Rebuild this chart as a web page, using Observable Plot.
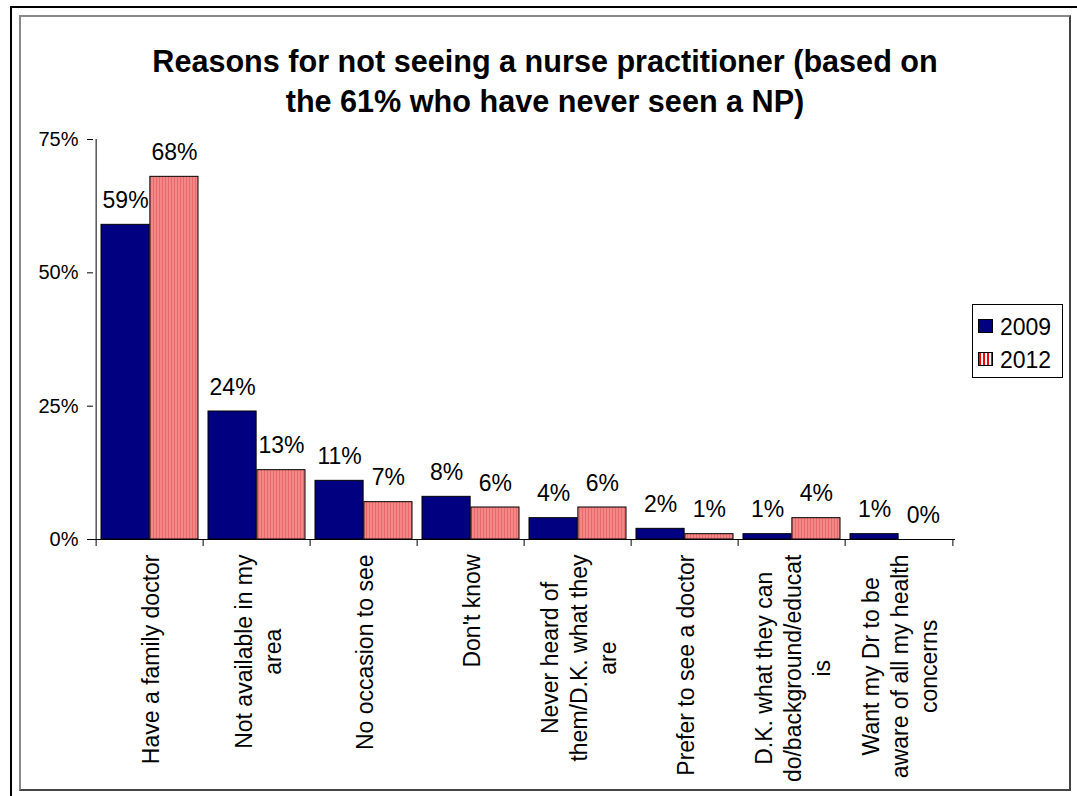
<!DOCTYPE html>
<html><head><meta charset="utf-8">
<script src="https://cdn.jsdelivr.net/npm/d3@7"></script>
<script src="https://cdn.jsdelivr.net/npm/@observablehq/plot@0.6"></script>
<style>
body{margin:0;background:#fff;font-family:"Liberation Sans",Arial,sans-serif;}
#wrap{position:relative;width:1077px;height:796px;overflow:hidden;background:#fff;}
#outer{position:absolute;left:10px;top:6px;width:1100px;height:830px;border-left:2px solid #000;border-top:2px solid #000;}
#inner{position:absolute;box-sizing:border-box;left:19px;top:15px;width:1052px;height:776px;border:2px solid #444;border-left-color:#888;border-top-color:#888;}
#chart{position:absolute;left:0;top:0;}
#title{position:absolute;left:0;width:1090px;top:41px;text-align:center;font-weight:bold;font-size:30.6px;line-height:40px;color:#000;}
#legend{position:absolute;box-sizing:border-box;left:972px;top:304px;width:91px;height:74px;border:1px solid #000;background:#fff;}
.sw{position:absolute;left:5px;width:15px;height:14px;box-sizing:border-box;border:1px solid #000;}
.lt{position:absolute;left:27px;font-size:23px;line-height:23px;color:#000;}
</style></head>
<body>
<div id="wrap">
  <div id="outer"></div>
  <div id="inner"></div>
  <div id="chart"></div>
  <div id="title">Reasons for not seeing a nurse practitioner (based on<br>the 61% who have never seen a NP)</div>
  <div id="legend">
    <div class="sw" style="top:14px;background:#000080"></div><div class="lt" style="top:11px">2009</div>
    <div class="sw" style="top:47px;background:repeating-linear-gradient(90deg,#ff0000 0 2px,#ffffff 2px 4px)"></div><div class="lt" style="top:44px">2012</div>
  </div>
</div>
<script>
const categories = ["Have a family doctor","Not available in my area","No occasion to see","Don't know","Never heard of them/D.K. what they are","Prefer to see a doctor","D.K. what they can do/background/educat is","Want my Dr to be aware of all my health concerns"];
const categoryLabels = ["Have a family doctor","Not available in my\narea","No occasion to see","Don't know","Never heard of\nthem/D.K. what they\nare","Prefer to see a doctor","D.K. what they can\ndo/background/educat\nis","Want my Dr to be\naware of all my health\nconcerns"];
const years = ["2009","2012"];
const values2009 = [59,24,11,8,4,2,1,1];
const values2012 = [68,13,7,6,6,1,4,0];
const yTicks = [0,25,50,75];

const rows2009 = categories.map((c,i)=>({category:c, year:years[0], value:values2009[i]}));
const rows2012 = categories.map((c,i)=>({category:c, year:years[1], value:values2012[i]}));

const W = 1077, H = 796, mL = 93, mR = 122, mT = 139, mB = 257;
const bw = (W - mL - mR) / categories.length;
const pad = 5;
const half = (bw - 2 * pad) / 2;
const labelFont = 23, labelLH = 1.25;

const ctx = document.createElement("canvas").getContext("2d");
ctx.font = labelFont + "px 'Liberation Sans'";
const labelWidth = (s) => Math.max(...s.split("\n").map(l => ctx.measureText(l).width));

const labelMarks = categories.map((c, i) => Plot.text([c], {
  x: d => d,
  frameAnchor: "bottom",
  text: () => categoryLabels[i],
  rotate: -90,
  textAnchor: "middle",
  lineAnchor: "middle",
  lineHeight: labelLH,
  fontSize: labelFont,
  dy: 15 + labelWidth(categoryLabels[i]) / 2
}));

const chart = Plot.plot({
  width: W, height: H,
  marginLeft: mL, marginRight: mR, marginTop: mT, marginBottom: mB,
  style: {fontFamily: "'Liberation Sans', Arial, sans-serif", fontSize: "20px", color: "#000", background: "transparent", overflow: "visible"},
  x: {domain: categories, padding: 0, axis: null},
  y: {domain: [0, 75], axis: null},
  marks: [
    Plot.barY(rows2009, {x: "category", y: "value", fill: "#000080", stroke: "#000", strokeWidth: 1, insetLeft: pad, insetRight: pad + half}),
    Plot.barY(rows2012.filter(d => d.value > 0), {x: "category", y: "value", fill: "url(#stripes2012)", stroke: "#000", strokeWidth: 1, insetLeft: pad + half, insetRight: pad}),
    Plot.ruleY([0], {stroke: "#000", strokeWidth: 1}),
    Plot.ruleX([categories[0]], {x: d => d, y1: 0, y2: 75, dx: -bw / 2, stroke: "#000"}),
    Plot.ruleX(categories, {x: d => d, y1: 0, y2: 0, insetTop: 7, insetBottom: 0, dx: -bw / 2, stroke: "#000"}),
    Plot.ruleX([categories[categories.length - 1]], {x: d => d, y1: 0, y2: 0, insetTop: 7, insetBottom: 0, dx: bw / 2, stroke: "#000"}),
    Plot.axisY(yTicks, {anchor: "left", tickSize: 6, tickPadding: 9, tickFormat: d => d + "%", fontSize: 20, label: null, stroke: "#000"}),
    Plot.text(rows2009, {x: "category", y: "value", text: d => d.value + "%", dx: -half / 2, dy: -17, lineAnchor: "bottom", fontSize: 23}),
    Plot.text(rows2012, {x: "category", y: "value", text: d => d.value + "%", dx: half / 2, dy: -17, lineAnchor: "bottom", fontSize: 23}),
    ...labelMarks
  ]
});

const ns = "http://www.w3.org/2000/svg";
const defs = document.createElementNS(ns, "defs");
defs.innerHTML = '<pattern id="stripes2012" patternUnits="userSpaceOnUse" width="3" height="10"><rect width="3" height="10" fill="#F38686"/><rect width="1" height="10" fill="#E76B6B"/></pattern>';
chart.insertBefore(defs, chart.firstChild);
document.getElementById("chart").appendChild(chart);
</script>
</body></html>
